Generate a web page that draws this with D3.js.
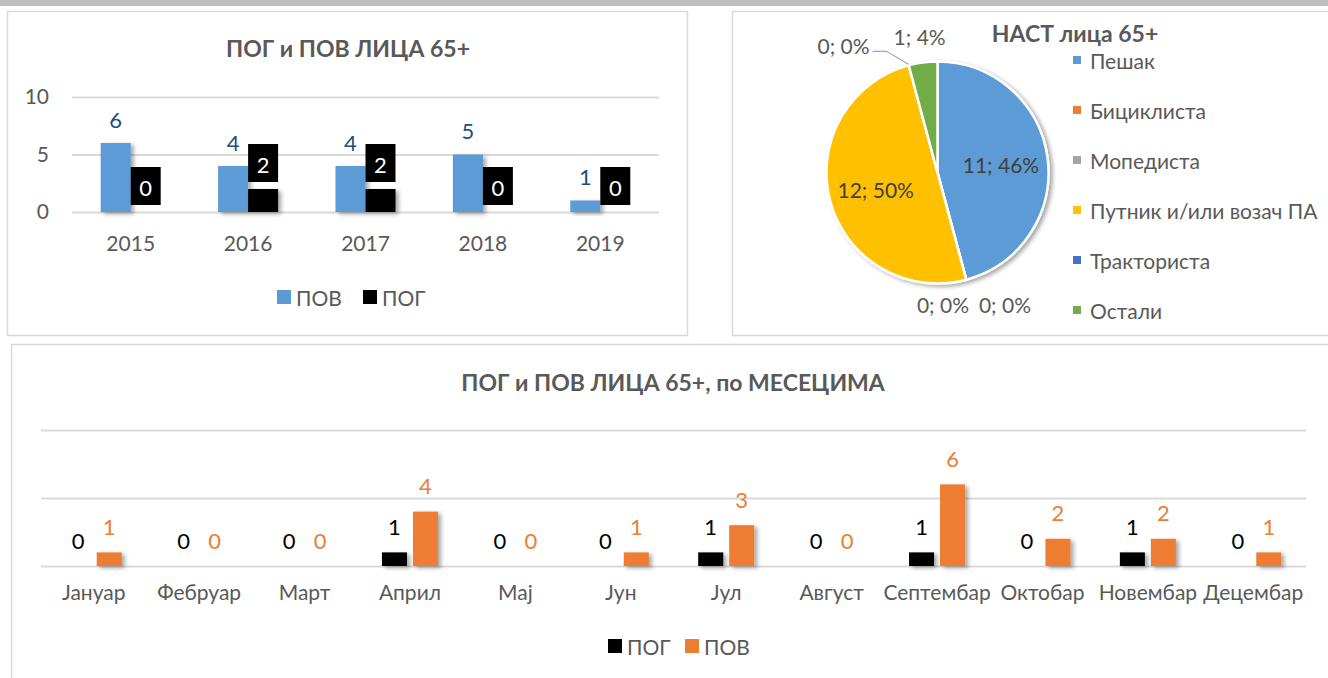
<html>
    <head>
       <style>
body {
    margin: 0;
    background: #fff;
}
text {
    font-family: Lato, "Open Sans", sans-serif;
    fill: #595959;
}
.grid line {
    stroke: #d9d9d9;
    stroke-width: 2px;
}
.grid .domain {
    display: none;
}
.panel {
    fill: #fff;
    stroke: #d9d9d9;
    stroke-width: 1.5px;
}
       </style>
    </head>
    <body>

        <svg></svg>

        <script src="https://cdn.jsdelivr.net/npm/d3@7/dist/d3.min.js"></script>

        <script>
var years = ["2015", "2016", "2017", "2018", "2019"],
    yearPov = [6, 4, 4, 5, 1],
    yearPog = [0, 2, 2, 0, 0];

var groups = ["Пешак", "Бициклиста", "Мопедиста", "Путник и/или возач ПА", "Тракториста", "Остали"],
    groupValues = [11, 0, 0, 12, 0, 1],
    groupColors = ["#5b9bd5", "#ed7d31", "#a5a5a5", "#ffc000", "#4472c4", "#70ad47"];

var months = ["Јануар", "Фебруар", "Март", "Април", "Мај", "Јун", "Јул", "Август", "Септембар", "Октобар", "Новембар", "Децембар"],
    monthPog = [0, 0, 0, 1, 0, 0, 1, 0, 1, 0, 1, 0],
    monthPov = [1, 0, 0, 4, 0, 1, 3, 0, 6, 2, 2, 1];

var yTicks = [0, 5, 10];

var width = 1328,
    height = 678;

var svg = d3.select("svg")
    .attr("width", width)
    .attr("height", height);

var defs = svg.append("defs");
defs.append("filter")
    .attr("id", "shadow")
    .attr("x", "-30%").attr("y", "-30%")
    .attr("width", "160%").attr("height", "160%")
  .append("feDropShadow")
    .attr("dx", 3).attr("dy", 2)
    .attr("stdDeviation", 2.2)
    .attr("flood-color", "#000")
    .attr("flood-opacity", 0.35);

svg.append("rect")
    .attr("width", width).attr("height", 6)
    .attr("fill", "#bfbfbf");

svg.append("rect").attr("class", "panel")
    .attr("x", 7.5).attr("y", 11.5).attr("width", 680).attr("height", 324);
svg.append("rect").attr("class", "panel")
    .attr("x", 732.5).attr("y", 11.5).attr("width", 620).attr("height", 324);
svg.append("rect").attr("class", "panel")
    .attr("x", 11.5).attr("y", 344.5).attr("width", 1340).attr("height", 360);

// ---- chart 1: by year
var g1 = svg.append("g");

var x1 = d3.scaleBand().domain(years).range([72, 659]),
    y1 = d3.scaleLinear().domain([0, 10]).range([212, 97]);

g1.append("text")
    .attr("x", 348).attr("y", 48)
    .attr("text-anchor", "middle").attr("dominant-baseline", "central")
    .style("font-weight", "bold").style("font-size", "23px")
    .text("ПОГ и ПОВ ЛИЦА 65+");

g1.append("g").attr("class", "grid")
    .attr("transform", "translate(72,0)")
    .call(d3.axisLeft(y1).tickValues(yTicks).tickSize(-587).tickPadding(23))
    .selectAll("text")
    .style("font-size", "21px").style("font-family", "Lato").attr("fill", "#595959");

g1.append("g")
    .attr("transform", "translate(0,212)")
    .call(d3.axisBottom(x1).tickSize(0).tickPadding(24))
    .call(function(g) { g.select(".domain").remove(); })
    .selectAll("text")
    .style("font-size", "21px").style("font-family", "Lato").attr("fill", "#595959");

var bw1 = 30;

g1.selectAll(".pov").data(yearPov).enter().append("rect")
    .attr("x", function(d, i) { return x1(years[i]) + x1.bandwidth() / 2 - bw1; })
    .attr("y", function(d) { return y1(d); })
    .attr("width", bw1)
    .attr("height", function(d) { return y1(0) - y1(d); })
    .attr("fill", "#5b9bd5")
    .attr("filter", "url(#shadow)");

g1.selectAll(".pog").data(yearPog).enter().append("rect")
    .attr("x", function(d, i) { return x1(years[i]) + x1.bandwidth() / 2; })
    .attr("y", function(d) { return y1(d); })
    .attr("width", bw1)
    .attr("height", function(d) { return y1(0) - y1(d); })
    .attr("fill", "#000")
    .attr("filter", "url(#shadow)");

g1.selectAll(".povlab").data(yearPov).enter().append("text")
    .attr("x", function(d, i) { return x1(years[i]) + x1.bandwidth() / 2 - bw1 / 2; })
    .attr("y", function(d) { return y1(d) - 24; })
    .attr("text-anchor", "middle").attr("dominant-baseline", "central")
    .style("font-size", "22px").style("fill", "#1f4e79")
    .text(function(d) { return d; });

var pogLab = g1.selectAll(".poglab").data(yearPog).enter().append("g")
    .attr("transform", function(d, i) {
        return "translate(" + (x1(years[i]) + x1.bandwidth() / 2) + "," + (y1(d) - 45) + ")";
    });
pogLab.append("rect")
    .attr("width", bw1).attr("height", 38)
    .attr("fill", "#000");
pogLab.append("text")
    .attr("x", bw1 / 2).attr("y", 20)
    .attr("text-anchor", "middle").attr("dominant-baseline", "central")
    .style("font-size", "22px").style("fill", "#fff")
    .text(function(d) { return d; });

var leg1 = g1.selectAll(".leg1").data([["ПОВ", "#5b9bd5", 277], ["ПОГ", "#000", 363]]).enter().append("g")
    .attr("transform", function(d) { return "translate(" + d[2] + ",290)"; });
leg1.append("rect").attr("width", 14).attr("height", 14).attr("fill", function(d) { return d[1]; });
leg1.append("text")
    .attr("x", 19).attr("y", 7.5)
    .attr("dominant-baseline", "central")
    .style("font-size", "21px")
    .text(function(d) { return d[0]; });

// ---- chart 2: pie
var g2 = svg.append("g");
var cx = 937.5, cy = 172.5, r = 111;

g2.append("text")
    .attr("x", 1075).attr("y", 33)
    .attr("text-anchor", "middle").attr("dominant-baseline", "central")
    .style("font-weight", "bold").style("font-size", "23px")
    .text("НАСТ лица 65+");

var total = d3.sum(groupValues);
var pie = d3.pie().sort(null).value(function(d) { return d; });
var arcs = pie(groupValues);
var arc = d3.arc().innerRadius(0).outerRadius(r);
var inArc = d3.arc().innerRadius(64).outerRadius(64);
var outArc = d3.arc().innerRadius(137).outerRadius(137);

var pieG = g2.append("g")
    .attr("transform", "translate(" + cx + "," + cy + ")");

pieG.append("g").attr("filter", "url(#shadow)")
  .selectAll("path").data(arcs).enter().append("path")
    .attr("d", arc)
    .attr("fill", function(d, i) { return groupColors[i]; })
    .attr("stroke", "#fff")
    .attr("stroke-width", 2.5);

// label placement: big slices inside, small ones outside; zero labels pushed apart
var zeroShift = {1: 32, 2: -30};
arcs.forEach(function(d, i) {
    var txt = d.value + "; " + Math.round(d.value / total * 100) + "%";
    var big = d.value / total > 0.2;
    var p = big ? inArc.centroid(d) : outArc.centroid(d);
    if (i === 4) {
        var a = d.startAngle;
        var e = [(r + 1) * Math.sin(a), -(r + 1) * Math.cos(a)];
        var k = [e[0] - 22, e[1] - 13];
        pieG.append("polyline")
            .attr("points", [e, k, [k[0] - 14, k[1]]].map(function(q) { return q.join(","); }).join(" "))
            .attr("fill", "none").attr("stroke", "#a6a6a6").attr("stroke-width", 1.2);
        pieG.append("text")
            .attr("x", k[0] - 17).attr("y", k[1] - 6)
            .attr("text-anchor", "end").attr("dominant-baseline", "central")
            .style("font-size", "21px")
            .text(txt);
        return;
    }
    pieG.append("text")
        .attr("x", p[0] + (zeroShift[i] || 0)).attr("y", p[1])
        .attr("text-anchor", "middle").attr("dominant-baseline", "central")
        .style("font-size", "21px")
        .style("fill", big ? "#404040" : "#595959")
        .text(txt);
});

var leg2 = g2.selectAll(".leg2").data(groups).enter().append("g")
    .attr("transform", function(d, i) { return "translate(1073," + (60 + i * 50) + ")"; });
leg2.append("rect")
    .attr("y", -4).attr("width", 8).attr("height", 8)
    .attr("fill", function(d, i) { return groupColors[i]; });
leg2.append("text")
    .attr("x", 17).attr("y", 0)
    .attr("dominant-baseline", "central")
    .style("font-size", "21px")
    .text(function(d) { return d; });

// ---- chart 3: by month
var g3 = svg.append("g");

var x3 = d3.scaleBand().domain(months).range([41, 1306]),
    y3 = d3.scaleLinear().domain([0, 10]).range([566, 430]);

g3.append("text")
    .attr("x", 673).attr("y", 382)
    .attr("text-anchor", "middle").attr("dominant-baseline", "central")
    .style("font-weight", "bold").style("font-size", "23px")
    .text("ПОГ и ПОВ ЛИЦА 65+, по МЕСЕЦИМА");

g3.append("g").attr("class", "grid")
    .attr("transform", "translate(41,0)")
    .call(d3.axisLeft(y3).tickValues(yTicks).tickSize(-1265).tickFormat(""));

g3.append("g")
    .attr("transform", "translate(0,566)")
    .call(d3.axisBottom(x3).tickSize(0).tickPadding(19))
    .call(function(g) { g.select(".domain").remove(); })
    .selectAll("text")
    .style("font-size", "21px").style("font-family", "Lato").attr("fill", "#595959");

var bw3 = 25, gap3 = 3;

function monthBars(vals, color, left) {
    var bx = function(i) {
        var c = x3(months[i]) + x3.bandwidth() / 2;
        return left ? c - gap3 - bw3 : c + gap3;
    };
    g3.append("g").selectAll("rect").data(vals).enter().append("rect")
        .attr("x", function(d, i) { return bx(i); })
        .attr("y", function(d) { return y3(d); })
        .attr("width", bw3)
        .attr("height", function(d) { return y3(0) - y3(d); })
        .attr("fill", color)
        .attr("filter", function(d) { return d > 0 ? "url(#shadow)" : null; });
    g3.append("g").selectAll("text").data(vals).enter().append("text")
        .attr("x", function(d, i) { return bx(i) + bw3 / 2; })
        .attr("y", function(d) { return y3(d) - 26; })
        .attr("text-anchor", "middle").attr("dominant-baseline", "central")
        .style("font-size", "22px").style("fill", color)
        .text(function(d) { return d; });
}
monthBars(monthPog, "#000", true);
monthBars(monthPov, "#ed7d31", false);

var leg3 = g3.selectAll(".leg3").data([["ПОГ", "#000", 608], ["ПОВ", "#ed7d31", 685]]).enter().append("g")
    .attr("transform", function(d) { return "translate(" + d[2] + ",639)"; });
leg3.append("rect").attr("width", 14).attr("height", 14).attr("fill", function(d) { return d[1]; });
leg3.append("text")
    .attr("x", 19).attr("y", 7.5)
    .attr("dominant-baseline", "central")
    .style("font-size", "21px")
    .text(function(d) { return d[0]; });
        </script>
    </body>
</html>
